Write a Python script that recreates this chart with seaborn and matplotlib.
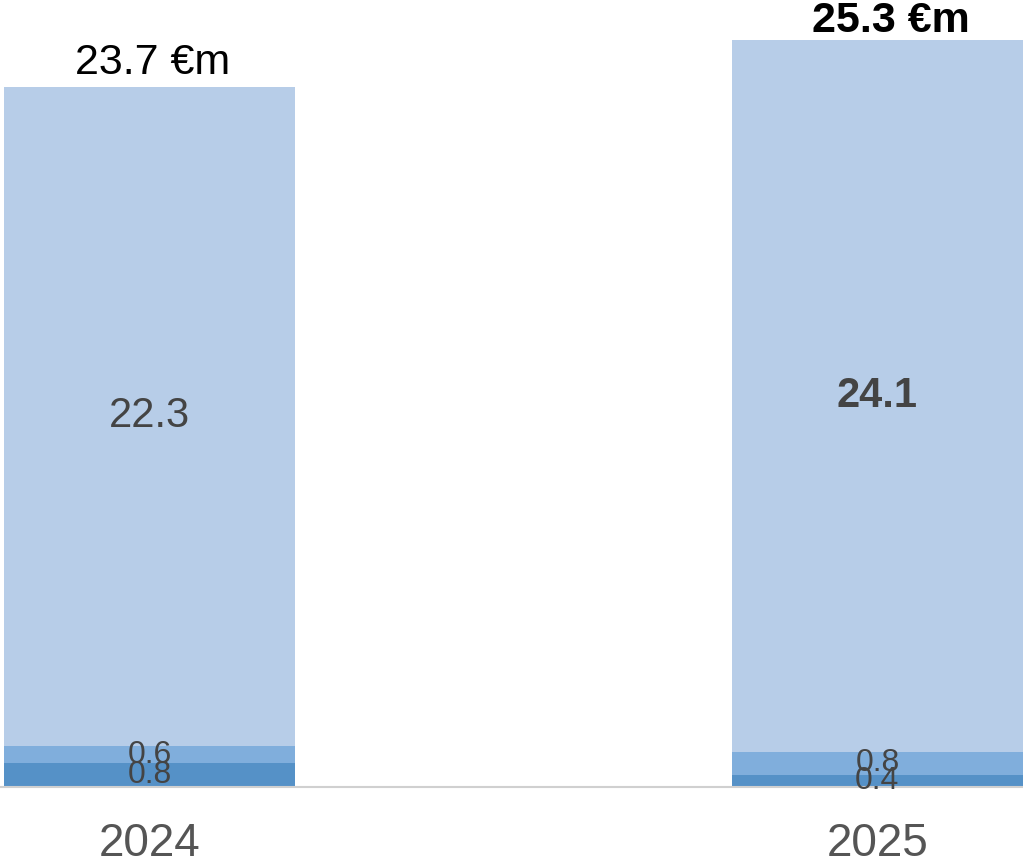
import matplotlib
matplotlib.use("Agg")
import matplotlib.pyplot as plt
import seaborn as sns
import numpy as np
import pandas as pd

years = ["2024", "2025"]
seg_bottom = [0.8, 0.4]
seg_middle = [0.6, 0.8]
seg_top = [22.3, 24.1]
totals = [23.7, 25.3]

colors = ["#5591c7", "#80aedc", "#b7cde8"]

sns.set_theme(style="white")
plt.rcParams['font.family'] = ['Liberation Sans', 'DejaVu Sans']

fig = plt.figure(figsize=(10.23, 8.64), dpi=100)
ax = fig.add_axes([0, 77/864, 1, 787/864])

segs = [seg_bottom, seg_middle, seg_top]
cum = np.cumsum(np.array(segs), axis=0)
# draw tallest first so lower segments overlay
for i in range(2, -1, -1):
    df = pd.DataFrame({"year": years, "val": cum[i]})
    sns.barplot(data=df, x="year", y="val", color=colors[i], width=0.4,
                saturation=1, ax=ax, linewidth=0)

ax.set_xlim(-0.2055, 1.2)
ax.set_ylim(0, 26.64)

# segment labels
for j in range(len(years)):
    bold = "bold" if j == 1 else "normal"
    base = 0
    for i, s in enumerate(segs):
        v = s[j]
        fs = 30 if i == 2 else 23
        ax.text(j, base + v / 2, f"{v}", ha="center", va="center",
                fontsize=fs, color="#444444",
                fontweight=bold if i == 2 else "normal")
        base += v
    offset = (2, 3) if j == 0 else (10, -1)
    ax.annotate(f"{totals[j]} €m", xy=(j, totals[j]), xytext=offset,
                textcoords="offset points", ha="center", va="bottom",
                fontsize=31, color="black", fontweight=bold)

ax.set_xlabel("")
ax.set_ylabel("")
ax.set_yticks([])
for s in ["top", "left", "right"]:
    ax.spines[s].set_visible(False)
ax.spines["bottom"].set_color("#d0d0d0")
ax.spines["bottom"].set_linewidth(1.5)
ax.tick_params(axis="x", length=0, pad=25, labelsize=33, labelcolor="#555555")

fig.savefig("out.png", dpi=100)
